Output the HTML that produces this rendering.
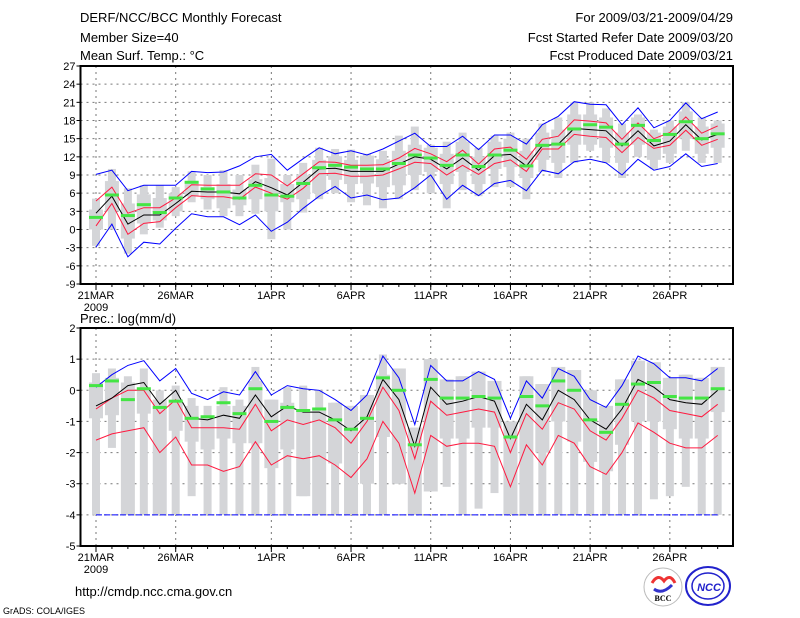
<!DOCTYPE html>
<html><head><meta charset="utf-8"><style>
html,body{margin:0;padding:0;background:#fff;}
svg{display:block;font-family:"Liberation Sans",sans-serif;}
</style></head><body>
<svg id="s" width="800" height="618" xmlns="http://www.w3.org/2000/svg"></svg>
<script>
const S=document.getElementById('s');let h='';
const X0=96,DX=15.94,L=80.5,R=733;
const dx=d=>X0+d*DX;
const tb=[2.7,5.5,0.9,2.4,2.4,4.3,6.3,6.2,6.2,5.9,7.9,6.9,5.7,7.8,10,10.1,9.6,9.6,9.6,10.8,12,11.6,10,11.8,9.8,12.2,12.4,10.5,13.8,14.1,16.7,16.5,16.3,13.8,16.3,13.8,14.6,17.3,14.8,15.7];
const tru=[4.7,7,2.7,3.6,3.6,5.2,7.4,7.3,7.3,7.3,9.2,9,7.2,9.2,11.2,11.1,10.6,10.6,10.7,11.8,13.4,12.5,11.2,13.1,10.8,13.3,13.6,11.6,14.9,15.4,18.1,17.9,17.6,14.9,17.6,15,16,18.6,15.9,17.1];
const trl=[0.6,4.3,-0.8,1,1.3,3.6,5.6,5.4,5.4,5,7,6,5,6.8,9.2,9.3,8.8,8.8,9,10,11.1,10.9,9,10.6,9.1,10.9,11.5,9.6,13.3,13.3,15.7,15.4,15.2,12.7,15.2,13.4,13.9,16.4,13.9,14.9];
const tbu=[9.1,9.8,6.4,7.3,7.3,7.3,9.6,9.4,9.5,10.5,12,12.4,9.8,11.7,13.5,12.5,13,12.3,13.3,14.6,15.9,13.7,13.7,15.4,13.2,15.6,15.6,14.1,17.3,18.7,21.1,20.7,20.6,17.3,20.1,16.8,18,20.9,18.3,19.4];
const tbl=[-2.9,0.9,-4.5,-2.1,-2.4,0.2,2.6,2.1,2.1,0.8,2.4,-0.3,1.2,3.5,5.5,7.1,5.2,5.7,4.9,5.2,6.9,9,5,7.3,5.6,7.6,8.1,6.4,9.8,9.2,11.2,11.6,11,9,11.6,9.8,10.4,12.5,10.4,10.9];
const tg=[2,5.7,2.3,4.1,2.8,5.2,7.8,6.7,6.2,5.2,7.3,5.7,5.5,7.6,10.2,10.6,10.3,10,10,10.9,12.3,11.8,10.6,12.3,10.4,12.3,13.1,10.5,13.9,14.1,16.6,17.3,16.9,14.1,17.2,14.7,15.7,17.8,15,15.8];
const tbox=[[0,3.3],[3,8],[-1.5,4.3],[1,5.8],[1.5,5.2],[3,6],[5.5,8],[5,7],[3.5,7.5],[4,6.6],[5,8.3],[3,8.5],[4.5,7.5],[5,9],[6,11.5],[8.2,12.1],[7.5,11.5],[7.6,12.2],[7,11.6],[7.3,13],[9,14],[9.5,13.5],[7.5,12.5],[9.5,14.5],[7.5,12],[10,14.5],[10.3,15],[8.5,13],[11.5,16],[11,16.5],[14,19],[14,19],[13.5,18.5],[11,16],[14,18.5],[11.5,16],[12.5,17],[15,19.5],[12.5,17],[13.5,17.5]];
const twh=[[-2.7,5.1],[0,10],[-4,6.8],[-0.8,7.3],[0.3,7.3],[2.2,7],[4.5,9.6],[3.3,9],[2.2,9.8],[2.2,9],[2.6,10.7],[-1.6,11.7],[0,9],[2.8,11],[5,13.5],[6,13.3],[4.5,13.2],[4,12.5],[3.5,13],[5,15.5],[6.5,17],[6,14],[3.5,14.5],[6.5,16],[5.5,13.5],[7,15.5],[7,16],[5,15],[9.5,17.5],[8.5,18.5],[11,21],[13,21],[11,20],[8.5,17.5],[12,19],[10,16.5],[11,18],[13,21],[11,18.5],[11,18]];
const bb=[-0.5,-0.25,0.15,0.25,-0.45,0,-0.9,-0.95,-0.8,-0.9,-0.15,-0.85,-0.5,-0.7,-0.7,-0.95,-1.3,-0.85,0.35,-0.3,-1.8,0.1,-0.45,-0.35,-0.2,-0.35,-1.55,-0.45,-0.95,0,-0.3,-0.95,-1.25,-0.6,0.35,0.1,-0.3,-0.4,-0.45,0];
const bru=[-0.6,-0.25,0,0,-0.75,-0.3,-1.2,-1.2,-1.2,-1.25,-0.45,-1.3,-0.95,-1.1,-0.95,-1.2,-1.7,-1,0.1,-0.65,-2.2,-0.35,-0.8,-0.7,-0.6,-0.7,-2,-0.75,-1.25,-0.4,-0.6,-1.3,-1.6,-0.9,0,-0.25,-0.65,-0.75,-0.85,-0.45];
const brl=[-1.6,-1.4,-1.3,-1.2,-2,-1.5,-2.4,-2.4,-2.6,-2.45,-1.65,-2.4,-2.1,-2.2,-2.1,-2.4,-2.8,-2.2,-1,-1.7,-3.3,-1.45,-1.8,-1.7,-1.7,-1.8,-3.1,-1.75,-2.4,-1.45,-1.7,-2.45,-2.7,-2,-1.05,-1.35,-1.7,-1.85,-1.85,-1.45];
const bbu=[0.1,0.5,0.8,0.95,0.3,0.7,-0.1,-0.3,-0.05,-0.15,0.6,-0.15,0.15,0.05,0,-0.3,-0.65,-0.15,1.1,0.4,-1.1,0.8,0.3,0.3,0.6,0.35,-0.9,0.3,-0.25,0.7,0.45,-0.3,-0.55,0.15,1.1,0.85,0.4,0.4,0.3,0.7];
const bg=[0.15,0.3,-0.3,0.05,-0.55,-0.35,-0.9,-0.85,-0.4,-0.75,0.05,-1,-0.55,-0.65,-0.6,-0.95,-1.25,-0.9,0.4,0,-1.75,0.35,-0.25,-0.25,-0.2,-0.25,-1.5,-0.2,-0.5,0.3,0,-0.95,-1.35,-0.45,0.2,0.25,-0.2,-0.25,-0.25,0.05];
const bbox=[[-0.9,0.25],[-0.8,0.4],[-4,0.25],[-0.75,0.05],[-4,-0.3],[-1.3,-0.4],[-1.65,-0.5],[-1.9,-0.9],[-1.55,-0.5],[-1.7,-0.5],[-1.7,0.3],[-2.5,-0.3],[-1.9,-0.4],[-3.4,-0.6],[-4,-0.6],[-2.35,-0.4],[-4,-0.5],[-3,-0.15],[-1.5,0.5],[-3,0.7],[-4,-1.2],[-3.25,1],[-1.55,0.35],[-1.55,0.45],[-1.2,0.6],[-1.2,0.3],[-4,-1],[-4,0.45],[-2,0.2],[-1,0.75],[-1.65,0.65],[-2.3,0],[-2.6,-0.5],[-1.75,0.35],[-1,0.95],[-1,0.9],[-1.25,0.4],[-1.55,0.5],[-1.55,0.4],[-0.7,0.75]];
const bwh=[[-4,0.55],[-1.85,0.7],[-4,0.45],[-4,0.7],[-4,0],[-4,0.15],[-3.4,-0.25],[-4,-0.5],[-4,0.1],[-4,-0.3],[-4,0.75],[-4,-0.3],[-4,0.1],[-3.4,0.15],[-4,0],[-4,-0.4],[-4,-0.5],[-4,-0.15],[-4,1.15],[-3,0.7],[-4,-1.2],[-3.25,1],[-3.1,0.35],[-4,0.45],[-3.8,0.6],[-3.3,0.3],[-4,-1],[-4,0.45],[-4,0.2],[-4,0.75],[-4,0.65],[-4,0],[-4,-0.5],[-4,0.35],[-4,0.95],[-3.5,0.9],[-3.4,0.4],[-3.1,0.5],[-4,0.4],[-4,0.75]];

function panel(T,B,vmax,vmin,step,labels,box,wh,g,lines,neg4){
  const y=v=>T+(vmax-v)*(B-T)/(vmax-vmin);
  for(let v=vmin+step;v<vmax;v+=step){h+=`<line x1="${L}" x2="${R}" y1="${y(v)}" y2="${y(v)}" stroke="#777" stroke-dasharray="2,4" stroke-width="1"/>`;}
  [0,5,11,16,21,26,31,36].forEach(d=>{h+=`<line x1="${dx(d)}" x2="${dx(d)}" y1="${T}" y2="${B}" stroke="#777" stroke-dasharray="2,4" stroke-width="1"/>`;});
  for(let i=0;i<40;i++){const x=dx(i);
    h+=`<rect x="${x-4}" y="${y(wh[i][1])}" width="8" height="${y(wh[i][0])-y(wh[i][1])}" fill="#d4d5d8"/>`;
    h+=`<rect x="${x-7}" y="${y(box[i][1])}" width="14" height="${y(box[i][0])-y(box[i][1])}" fill="#d4d5d8"/>`;}
  if(neg4)h+=`<line x1="${dx(0)}" x2="${dx(39)}" y1="${y(-4)}" y2="${y(-4)}" stroke="#0000ff" stroke-width="1" stroke-dasharray="6,2"/>`;
  lines.forEach(([a,c])=>{h+=`<polyline fill="none" stroke="${c}" stroke-width="1" points="${a.map((v,i)=>dx(i).toFixed(1)+','+y(v).toFixed(1)).join(' ')}"/>`;});
  for(let i=0;i<40;i++){h+=`<rect x="${dx(i)-7}" y="${y(g[i])-1.5}" width="14" height="3" fill="#44e544"/>`;}
  h+=`<rect x="${L}" y="${T}" width="${R-L}" height="${B-T}" fill="none" stroke="#000" stroke-width="2"/>`;
  for(let v=vmin;v<=vmax;v+=step){h+=`<line x1="${L-4}" x2="${L}" y1="${y(v)}" y2="${y(v)}" stroke="#000"/><text x="${L-5}" y="${y(v)+4}" font-size="11" text-anchor="end">${v}</text>`;}
  for(let d=0;d<40;d++){h+=`<line x1="${dx(d)}" x2="${dx(d)}" y1="${B}" y2="${B+3}" stroke="#000"/>`;}
  labels.forEach(([d,t])=>{h+=`<line x1="${dx(d)}" x2="${dx(d)}" y1="${B}" y2="${B+6}" stroke="#000"/><text x="${dx(d)}" y="${B+15}" font-size="11" text-anchor="middle">${t}</text>`;});
  h+=`<text x="${dx(0)}" y="${B+27}" font-size="11" text-anchor="middle">2009</text>`;
}
const lab=[[0,'21MAR'],[5,'26MAR'],[11,'1APR'],[16,'6APR'],[21,'11APR'],[26,'16APR'],[31,'21APR'],[36,'26APR']];
panel(66,284,27,-9,3,lab,tbox,twh,tg,[[tbu,'#0000ff'],[tbl,'#0000ff'],[tru,'#ff1a40'],[trl,'#ff1a40'],[tb,'#000']],false);
panel(328,546,2,-5,1,lab,bbox,bwh,bg,[[bbu,'#0000ff'],[bru,'#ff1a40'],[brl,'#ff1a40'],[bb,'#000']],true);
h+=`<g font-size="13"><text x="80" y="22">DERF/NCC/BCC Monthly Forecast</text><text x="80" y="42">Member Size=40</text><text x="80" y="60">Mean Surf. Temp.: °C</text>
<text x="733" y="22" text-anchor="end">For 2009/03/21-2009/04/29</text><text x="733" y="42" text-anchor="end">Fcst Started Refer Date 2009/03/20</text><text x="733" y="60" text-anchor="end">Fcst Produced Date 2009/03/21</text>
<text x="80" y="323">Prec.: log(mm/d)</text><text x="75" y="596">http://cmdp.ncc.cma.gov.cn</text></g>
<text x="3" y="614" font-size="9">GrADS: COLA/IGES</text>
<circle cx="663" cy="587" r="19" fill="#fff" stroke="#bbb"/><path d="M652,583 q6,-10 12,-2 q6,-8 11,2" fill="none" stroke="#e33" stroke-width="3"/><path d="M654,589 q8,6 18,-4" fill="none" stroke="#33c" stroke-width="3"/><text x="663" y="601" font-size="8" text-anchor="middle" font-family="Liberation Serif" font-weight="bold">BCC</text>
<ellipse cx="708" cy="586" rx="22" ry="19" fill="#fff" stroke="#22c" stroke-width="2"/><ellipse cx="708" cy="586" rx="16" ry="13" fill="none" stroke="#22c" stroke-width="1.5"/><text x="709" y="591" font-size="11" text-anchor="middle" fill="#22c" font-weight="bold" font-style="italic">NCC</text>`;
S.innerHTML=h;
</script>
</body></html>
